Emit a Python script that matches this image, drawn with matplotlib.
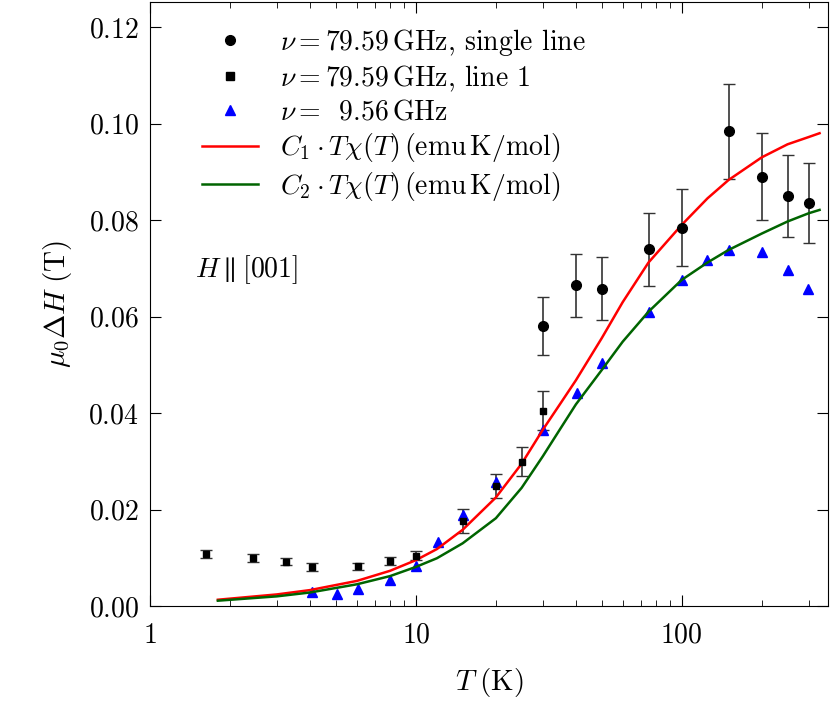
import numpy as np
import matplotlib
matplotlib.use("Agg")
import matplotlib.pyplot as plt
from matplotlib.ticker import FuncFormatter, LogLocator
from matplotlib.lines import Line2D

plt.rcParams.update({"font.family": "serif", "font.serif": ["cmr10"], "mathtext.fontset": "cm",
                     "axes.unicode_minus": False, "font.size": 20, "axes.formatter.use_mathtext": True})

T_single = [30, 40, 50, 75, 100, 150, 200, 250, 300]
H_single = [0.0581, 0.0665, 0.0658, 0.0739, 0.0784, 0.0984, 0.0890, 0.0850, 0.0835]
E_single = [0.006, 0.0065, 0.0065, 0.0075, 0.008, 0.0098, 0.009, 0.0085, 0.0083]

T_line1 = [1.63, 2.44, 3.24, 4.06, 6.05, 8.0, 10, 15, 20, 25, 30]
H_line1 = [0.0108, 0.0100, 0.0092, 0.0081, 0.0082, 0.0093, 0.0104, 0.0176, 0.0249, 0.0299, 0.0405]
E_line1 = [0.0008, 0.0008, 0.0008, 0.0008, 0.0008, 0.0008, 0.0009, 0.0025, 0.0025, 0.003, 0.004]

T_tri = [4.06, 5.07, 6.05, 8.0, 10, 12.1, 15, 20, 30, 40.4, 50, 75, 100, 125, 150, 200, 250, 298]
H_tri = [0.0028, 0.0024, 0.0036, 0.0054, 0.0083, 0.0132, 0.0189, 0.0258, 0.0365, 0.0442, 0.0504,
         0.061, 0.0676, 0.0717, 0.0738, 0.0734, 0.0696, 0.0657]

T_curve = [1.8, 3, 4, 6, 8, 10, 12, 15, 20, 25, 30, 35, 40, 50, 60, 75, 100, 125, 150, 200, 250, 300, 330]
H_red = [0.0013, 0.0024, 0.0033, 0.0052, 0.0073, 0.0095, 0.0118, 0.0158, 0.0225, 0.0295, 0.0365,
         0.0420, 0.0468, 0.0555, 0.0630, 0.0712, 0.0790, 0.0845, 0.0883, 0.0930, 0.0957, 0.0972, 0.0980]
H_green = [0.0011, 0.0020, 0.0028, 0.0045, 0.0062, 0.0081, 0.0099, 0.0130, 0.0182, 0.0245, 0.0310,
           0.0368, 0.0418, 0.0489, 0.0548, 0.0610, 0.0676, 0.0712, 0.0738, 0.0772, 0.0797, 0.0814, 0.0821]

fig = plt.figure(figsize=(8.31, 7.09), dpi=100)
ax = fig.add_axes([150/831, 1-606/709, 678/831, 604/709])

ax.errorbar(T_single, H_single, yerr=E_single, fmt='o', color='black', ms=7, capsize=4,
            elinewidth=1.2, ecolor='#333333')
ax.errorbar(T_line1, H_line1, yerr=E_line1, fmt='s', color='black', ms=5, capsize=4,
            elinewidth=1.2, ecolor='#333333')
ax.plot(T_tri, H_tri, '^', color='blue', ms=7, ls='none')
ax.plot(T_curve, H_red, color='red', lw=1.8)
ax.plot(T_curve, H_green, color='#006400', lw=1.8)

handles = [
    Line2D([], [], marker='o', color='black', ls='none', ms=7),
    Line2D([], [], marker='s', color='black', ls='none', ms=6),
    Line2D([], [], marker='^', color='blue', ls='none', ms=7),
    Line2D([], [], color='red', lw=1.8),
    Line2D([], [], color='#006400', lw=1.8),
]
labels = [r'$\nu = 79.59\,\mathrm{GHz}$, single line',
          r'$\nu = 79.59\,\mathrm{GHz}$, line 1',
          r'$\nu = \;\;9.56\,\mathrm{GHz}$',
          r'$C_1 \cdot T\chi(T)\,(\mathrm{emu\,K/mol})$',
          r'$C_2 \cdot T\chi(T)\,(\mathrm{emu\,K/mol})$']

ax.set_xscale('log')
ax.set_xlim(1, 355)
ax.set_ylim(0, 0.1252)
ax.set_yticks(np.arange(0, 0.121, 0.02))
ax.yaxis.set_major_formatter(FuncFormatter(lambda v, p: r'$%.2f$' % v))
ax.xaxis.set_major_formatter(FuncFormatter(lambda v, p: r'$%d$' % v))
ax.xaxis.set_minor_locator(LogLocator(base=10, subs=np.arange(2, 10)))
ax.tick_params(which='both', direction='in', top=True, right=True, labelsize=20)
ax.tick_params(which='major', length=8)
ax.tick_params(which='minor', length=4)
ax.tick_params(axis='x', pad=12)
ax.tick_params(axis='y', pad=8)
ax.set_xlabel(r'$T\;(\mathrm{K})$', fontsize=21, labelpad=12)
ax.set_ylabel(r'$\mu_0\Delta H\;(\mathrm{T})$', fontsize=21, labelpad=10)
ax.text((195-150)/678, (606-270)/604, r'$H\parallel[001]$', transform=ax.transAxes, fontsize=20, va='center')
ax.legend(handles, labels, loc='upper left', frameon=False, fontsize=20, handlelength=2.0,
          labelspacing=0.2, handletextpad=0.8, bbox_to_anchor=(0.04, 1.0))
fig.savefig('out.png', dpi=100)
